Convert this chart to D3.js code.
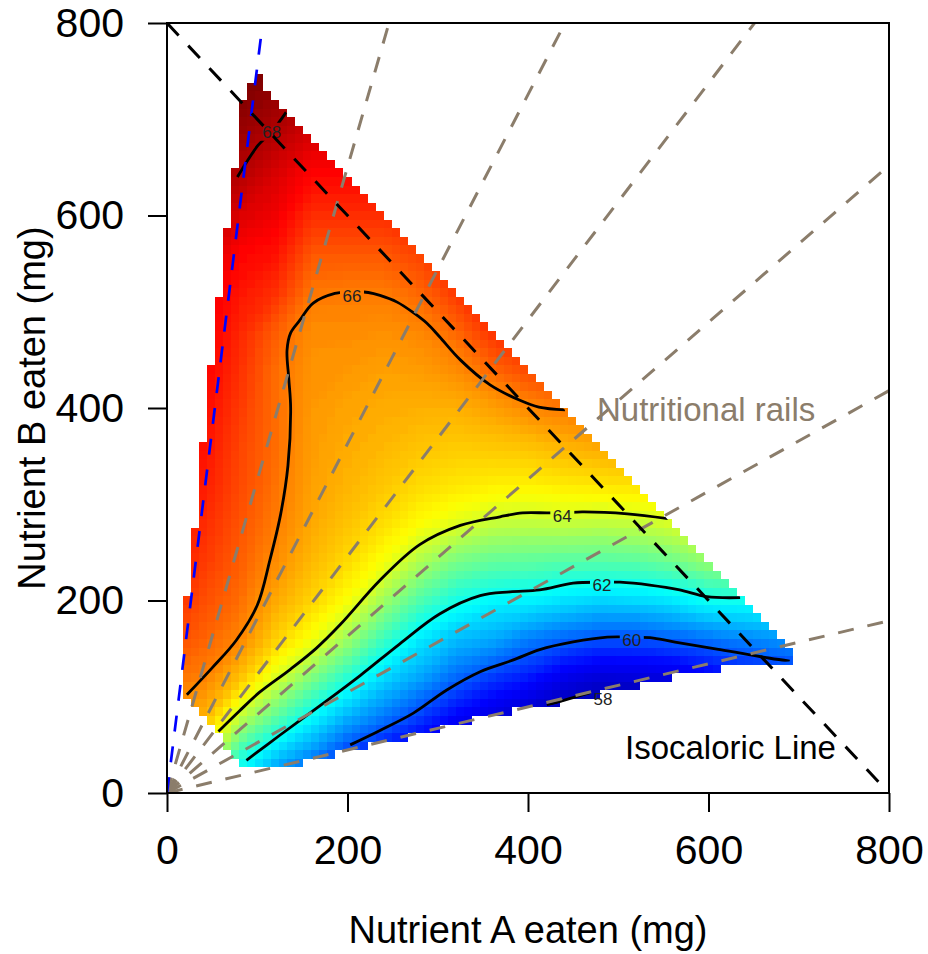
<!DOCTYPE html>
<html><head><meta charset="utf-8">
<script src="https://cdn.jsdelivr.net/npm/d3@7"></script>
<style>
body{margin:0;background:#fff}
svg{display:block}
text{font-family:"Liberation Sans",Arial,Helvetica,sans-serif}
</style>
</head><body>
<svg id="chart" width="928" height="954"></svg>
<script>
// ---------------- DATA ----------------
const nutrientA = [0,40,80,120,160,200,240,280,320,360,400,440,480,520,560,600,640,680,720];
const nutrientB = [0,40,80,120,160,200,240,280,320,360,400,440,480,520,560,600,640,680,720,760];
const responseRows = [
 [63.0,62.5,61.2,59.8,59.0,58.0,57.0,56.5,56.0,55.5,55.0,54.5,54.0,53.5,53.5,53.8,54.2,54.6,55.0],
 [64.5,64.3,62.3,61.3,60.6,59.7,59.1,58.6,57.9,57.3,56.8,56.0,55.5,55.0,55.2,55.6,56.0,56.4,56.8],
 [65.5,65.4,63.8,62.8,61.85,61.0,60.4,59.75,59.1,58.6,58.1,57.5,57.1,56.9,57.0,57.4,57.7,58.0,58.3],
 [66.2,66.0,65.2,64.05,63.1,62.2,61.4,60.85,60.2,59.7,59.35,58.75,58.45,58.5,58.55,58.9,59.2,59.4,59.6],
 [66.6,66.3,65.95,65.0,64.3,63.4,62.4,61.6,61.1,60.9,60.45,60.15,59.95,59.95,60.1,60.3,60.5,60.7,60.9],
 [66.9,66.5,66.2,65.5,64.95,64.35,63.4,62.6,62.05,61.75,61.7,61.5,61.35,61.4,61.55,61.9,61.95,62.1,62.3],
 [67.1,66.7,66.35,65.85,65.3,64.85,64.3,63.55,63.0,62.8,62.75,62.65,62.65,62.7,62.9,63.3,63.5,63.6,63.7],
 [67.2,66.85,66.45,66.05,65.5,65.15,64.8,64.4,64.1,63.8,63.75,63.8,63.75,63.8,64.0,64.4,64.6,64.8,64.9],
 [67.3,67.0,66.55,66.15,65.6,65.35,65.1,64.85,64.7,64.6,64.55,64.65,64.7,64.75,64.9,65.3,65.5,65.7,65.8],
 [67.4,67.1,66.6,66.2,65.65,65.45,65.3,65.15,65.05,65.1,65.15,65.35,65.5,65.6,65.7,66.0,66.2,66.4,66.5],
 [67.5,67.2,66.7,66.2,65.7,65.55,65.45,65.4,65.4,65.6,65.9,66.05,66.2,66.3,66.4,66.7,66.9,67.1,67.2],
 [67.6,67.3,66.8,66.2,65.75,65.7,65.6,65.65,65.85,66.25,66.55,66.7,66.9,67.0,67.1,67.3,67.5,67.7,67.8],
 [67.7,67.4,66.9,66.35,65.85,65.85,65.8,65.92,66.25,66.75,67.1,67.3,67.5,67.6,67.7,67.9,68.1,68.3,68.4],
 [67.8,67.5,67.05,66.8,66.1,66.05,66.05,66.25,66.7,67.2,67.6,67.8,68.0,68.1,68.2,68.4,68.6,68.8,68.9],
 [67.9,67.7,67.25,67.1,66.4,66.4,66.4,66.6,67.1,67.6,68.0,68.2,68.5,68.6,68.7,68.8,69.0,69.2,69.3],
 [68.0,67.9,67.6,67.4,66.8,66.8,66.8,67.0,67.5,68.0,68.4,68.6,68.9,69.0,69.1,69.2,69.4,69.6,69.7],
 [68.2,68.1,67.98,67.6,67.2,67.2,67.2,67.4,67.9,68.3,68.7,69.0,69.3,69.4,69.5,69.6,69.8,70.0,70.1],
 [68.4,68.3,68.2,67.95,67.6,67.6,67.6,67.8,68.2,68.6,69.0,69.3,69.6,69.7,69.8,69.9,70.1,70.3,70.4],
 [68.6,68.5,68.45,68.25,68.0,68.0,68.0,68.2,68.5,68.9,69.3,69.6,69.9,70.0,70.1,70.2,70.4,70.6,70.7],
 [68.8,68.7,68.7,68.55,68.4,68.4,68.4,68.6,68.8,69.2,69.6,69.9,70.2,70.3,70.4,70.5,70.7,70.9,71.0]
];
// outline of the sampled intake region (A, B)
const regionA = [88,96,103,110,692,692,640,605,554,511,470,424,372,328,286,236,180,136,89,78,59,37,17,14,16,25,34,42,50,59,68,78,86];
const regionB = [733,745,745,729,147,137,133,128,119,109,100,91,83,73,62,53,38,28,26,34,58,79,102,107,160,221,304,388,458,523,595,661,732];
// contour lines (A, B points)
const contour58 = [[421,91],[446,98],[472,105]];
const contour60 = [[203,50],[236,65],[273,83],[310,107],[347,126],[383,138],[413,149],[450,157],[488,162],[515,162],[539,161],[568,156],[613,149],[668,140],[690,137]];
const contour62 = [[88,34],[125,60],[170,91],[214,122],[258,155],[302,186],[347,205],[380,209],[413,211],[450,218],[482,219],[502,219],[535,216],[568,211],[598,204],[635,203]];
const contour64 = [[57,64],[80,85],[103,105],[136,128],[165,150],[192,175],[236,221],[280,258],[325,278],[369,287],[394,291],[421,291],[440,291],[460,292],[510,290],[555,285]];
const contour66 = [[22,102],[50,130],[77,159],[100,195],[114,242],[126,290],[134,340],[137,400],[135,430],[133,460],[137,478],[147,491],[162,509],[186,519],[205,521],[223,520],[236,517],[255,510],[273,499],[288,488],[302,474],[325,450],[358,424],[391,408],[412,401],[441,398]];
const contour68 = [[78,640],[101,673],[116,687],[134,710]];
const labelLevels = [68,66,64,62,60,58];
const labelA = [116,205,438,482,515,483];
const labelB = [687,516,288,216,159,98];
// nutritional rails: end points on the plot border
const railEndA = [246,441,651,800,800,800];
const railEndB = [800,800,800,652,418,179];
const blueRailEnd = [106,800];
const isocaloric = [[0,800],[800,0]];
const tickValues = [0,200,400,600,800];
// colour ramp (value -> colour)
const colourStops = [56.9,59.1,61.8,64.4,66.0,67.25,68.5];
const colourRamp = ["#00007f","#0000ff","#00ffff","#ffff00","#ff8000","#ff0000","#7f0000"];
const gridCells = 90; // surface raster resolution over 0-800 mg

// ---------------- CHART ----------------
const svg = d3.select("#chart");
const x = d3.scaleLinear().domain([0,800]).range([167,889]);
const y = d3.scaleLinear().domain([0,800]).range([793,23]);
const colour = d3.scaleLinear().domain(colourStops).range(colourRamp).clamp(true);
const defs = svg.append("defs");

const regionPts = regionA.map((a,i)=>[a,regionB[i]]);
defs.append("clipPath").attr("id","regionClip").append("path")
  .attr("d", d3.line().x(d=>x(d[0])).y(d=>y(d[1]))(regionPts)+"Z");
defs.append("clipPath").attr("id","plotClip").append("rect")
  .attr("x",x(0)).attr("y",y(800)).attr("width",x(800)-x(0)).attr("height",y(0)-y(800));

// heat surface: contour bands rendered onto a coarse raster, then shown pixelated
const nx = nutrientA.length, ny = nutrientB.length;
const stepA = nutrientA[1]-nutrientA[0], stepB = nutrientB[1]-nutrientB[0];
const flat = responseRows.flat();
const thr = d3.range(53, 71.2, 0.1);
const bands = d3.contours().size([nx,ny]).thresholds(thr)(flat);
const cX = d3.scaleLinear().domain([0,800]).range([0,gridCells]);
const cY = d3.scaleLinear().domain([0,800]).range([gridCells,0]);
const projLo = d3.geoTransform({point(px,py){
  this.stream.point(cX(nutrientA[0]+(px-0.5)*stepA), cY(nutrientB[0]+(py-0.5)*stepB));
}});
const lo = document.createElement("canvas");
lo.width = gridCells; lo.height = gridCells;
const lctx = lo.getContext("2d");
const pathLo = d3.geoPath(projLo, lctx);
bands.forEach(b=>{
  lctx.beginPath(); pathLo(b);
  lctx.fillStyle = colour(b.value+0.05); lctx.fill();
});
const img = lctx.getImageData(0,0,gridCells,gridCells);
for(let j=0;j<gridCells;j++){
  for(let i=0;i<gridCells;i++){
    const a = cX.invert(i+0.5), b = cY.invert(j+0.5);
    const k = (j*gridCells+i)*4;
    img.data[k+3] = d3.polygonContains(regionPts,[a,b]) ? 255 : 0;
  }
}
lctx.putImageData(img,0,0);
const pw = Math.round(x(800)-x(0)), ph = Math.round(y(0)-y(800));
const hi = document.createElement("canvas");
hi.width = pw; hi.height = ph;
const hctx = hi.getContext("2d");
hctx.imageSmoothingEnabled = false;
hctx.drawImage(lo,0,0,pw,ph);
svg.append("image").attr("x",x(0)).attr("y",y(800)).attr("width",pw).attr("height",ph)
  .attr("preserveAspectRatio","none").attr("href",hi.toDataURL());

// contour labels + gaps
const labelData = labelLevels.map((l,i)=>({level:l,a:labelA[i],b:labelB[i]}));
const mask = defs.append("mask").attr("id","labelGap").attr("maskUnits","userSpaceOnUse")
  .attr("x",0).attr("y",0).attr("width",928).attr("height",954);
mask.append("rect").attr("x",0).attr("y",0).attr("width",928).attr("height",954).attr("fill","#fff");
labelData.forEach(d=>{
  mask.append("rect").attr("x",x(d.a)-12).attr("y",y(d.b)-9).attr("width",24).attr("height",18).attr("fill","#000");
});
const contourLine = d3.line().x(d=>x(d[0])).y(d=>y(d[1])).curve(d3.curveCatmullRom.alpha(0.5));
const cg = svg.append("g").attr("clip-path","url(#regionClip)").append("g").attr("mask","url(#labelGap)");
[contour58,contour60,contour62,contour64,contour66,contour68].forEach(c=>{
  cg.append("path").attr("d",contourLine(c)).attr("fill","none")
    .attr("stroke","#000").attr("stroke-width",2.8).attr("stroke-linejoin","round");
});
svg.append("g").selectAll("text").data(labelData).join("text")
  .attr("x",d=>x(d.a)).attr("y",d=>y(d.b)).attr("dy","0.36em")
  .attr("text-anchor","middle").attr("font-size",17).attr("fill","#222")
  .text(d=>d.level);

// rails
const lines = svg.append("g").attr("clip-path","url(#plotClip)");
railEndA.forEach((a,i)=>{
  lines.append("line").attr("x1",x(0)).attr("y1",y(0)).attr("x2",x(a)).attr("y2",y(railEndB[i]))
    .attr("stroke","#8b7d6b").attr("stroke-width",3).attr("stroke-dasharray","16 14");
});
lines.append("line").attr("x1",x(0)).attr("y1",y(0)).attr("x2",x(blueRailEnd[0])).attr("y2",y(blueRailEnd[1]))
  .attr("stroke","#0000ff").attr("stroke-width",2.7).attr("stroke-dasharray","16 15");
lines.append("line").attr("x1",x(isocaloric[0][0])).attr("y1",y(isocaloric[0][1]))
  .attr("x2",x(isocaloric[1][0])).attr("y2",y(isocaloric[1][1]))
  .attr("stroke","#000").attr("stroke-width",3).attr("stroke-dasharray","17 14");

// annotations
svg.append("text").attr("x",597).attr("y",421).attr("font-size",33).attr("fill","#8b7d6b").text("Nutritional rails");
svg.append("text").attr("x",625).attr("y",759).attr("font-size",33).attr("fill","#000").text("Isocaloric Line");

// frame + axes
svg.append("rect").attr("x",x(0)).attr("y",y(800)).attr("width",x(800)-x(0)).attr("height",y(0)-y(800))
  .attr("fill","none").attr("stroke","#000").attr("stroke-width",2);
const xAxis = svg.append("g").attr("transform",`translate(0,${y(0)})`)
  .call(d3.axisBottom(x).tickValues(tickValues).tickSize(19).tickPadding(23).tickFormat(d3.format("d")));
const yAxis = svg.append("g").attr("transform",`translate(${x(0)},0)`)
  .call(d3.axisLeft(y).tickValues(tickValues).tickSize(19).tickPadding(24).tickFormat(d3.format("d")));
[xAxis,yAxis].forEach(g=>{
  g.select(".domain").remove();
  g.selectAll(".tick line").attr("stroke","#000").attr("stroke-width",2);
  g.selectAll(".tick text").attr("font-size",41).attr("fill","#000")
    .attr("font-family","'Liberation Sans',Arial,sans-serif");
});
svg.append("text").attr("x",528).attr("y",943).attr("text-anchor","middle").attr("font-size",38)
  .text("Nutrient A eaten (mg)");
svg.append("text").attr("transform","translate(45,408) rotate(-90)").attr("text-anchor","middle").attr("font-size",38)
  .text("Nutrient B eaten (mg)");
</script>
</body></html>
